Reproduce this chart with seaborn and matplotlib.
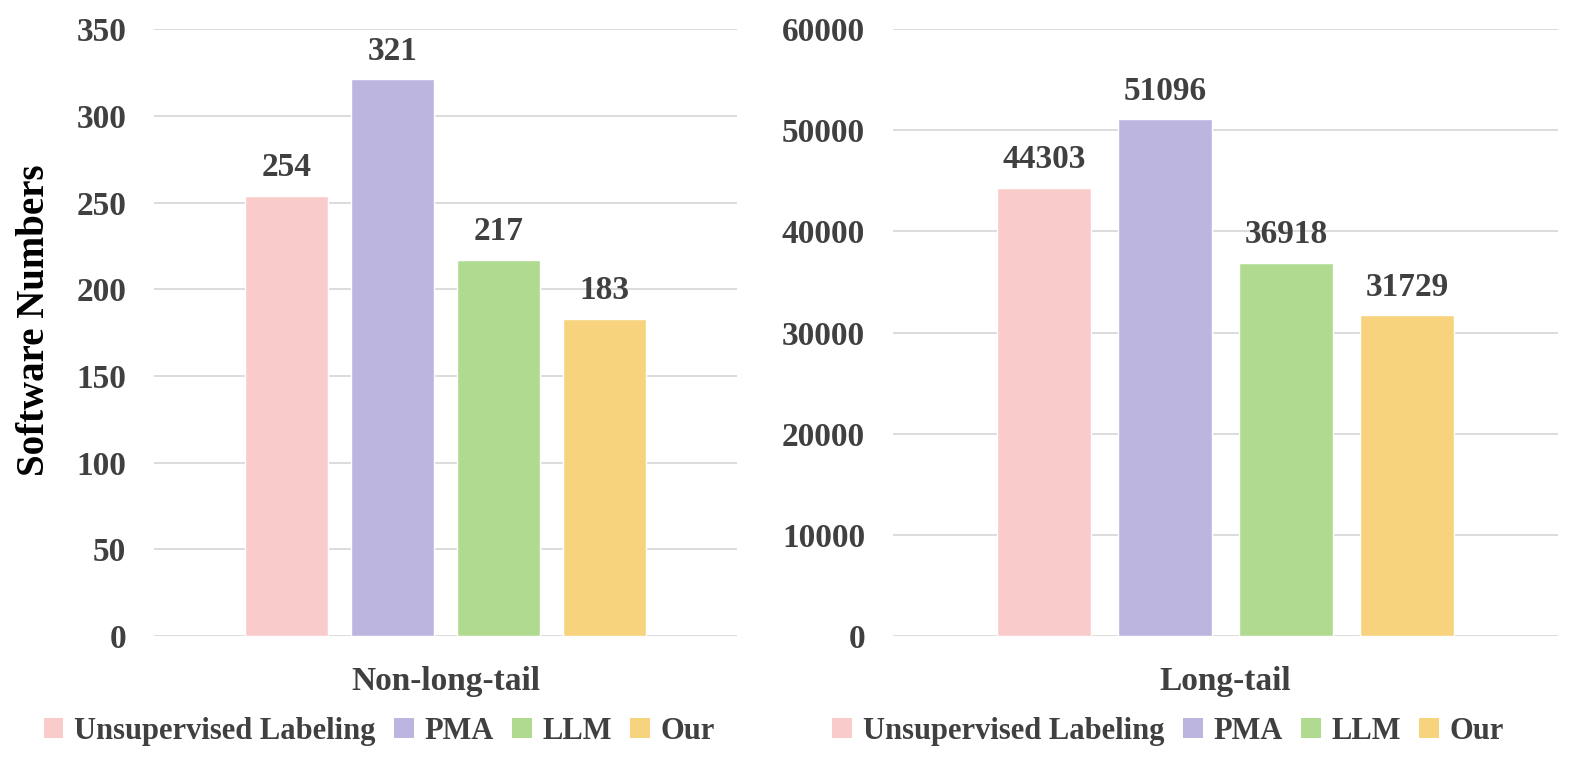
import matplotlib
matplotlib.use("Agg")
import matplotlib.pyplot as plt
import seaborn as sns
import pandas as pd
from matplotlib.patches import Patch

methods = ["Unsupervised Labeling", "PMA", "LLM", "Our"]
non_long_tail = [254, 321, 217, 183]
long_tail = [44303, 51096, 36918, 31729]
colors = ["#F9CBCA", "#BBB5E0", "#B1DA91", "#F7D37D"]
panels = [("Non-long-tail", non_long_tail, 350, 50), ("Long-tail", long_tail, 60000, 10000)]

sns.set_theme(style="white")
plt.rcParams["font.family"] = ["Liberation Serif", "DejaVu Serif"]
plt.rcParams["font.weight"] = "bold"
TXT = "#404040"
FS = 24

fig = plt.figure(figsize=(15.81, 7.68), dpi=100)
ax_rects = [[0.0974, 0.172, 0.3688, 0.790], [0.5648, 0.172, 0.4207, 0.790]]
legend_x = [0.240, 0.739]

for (name, vals, ymax, step), rect, lx in zip(panels, ax_rects, legend_x):
    ax = fig.add_axes(rect)
    df = pd.DataFrame({"group": [name] * len(methods), "method": methods, "value": vals})
    sns.barplot(data=df, x="group", y="value", hue="method", hue_order=methods,
                palette=colors, width=0.728, gap=0.22, ax=ax, legend=False,
                saturation=1, zorder=3)
    ax.set_ylim(0, ymax)
    ax.set_yticks(range(0, ymax + 1, step))
    ax.set_xlim(-0.5, 0.5)
    ax.grid(axis="y", color="#D9D9D9", linewidth=1.3, zorder=0)
    ax.set_axisbelow(True)
    for s in ax.spines.values():
        s.set_visible(False)
    ax.tick_params(axis="both", length=0, labelsize=FS, labelcolor=TXT)
    ax.tick_params(axis="y", pad=20)
    ax.tick_params(axis="x", pad=22)
    for lab in ax.get_xticklabels() + ax.get_yticklabels():
        lab.set_fontweight("bold")
    ax.set_xlabel("")
    ax.set_ylabel("")
    for c in ax.containers:
        ax.bar_label(c, fmt="%d", padding=9, fontsize=FS, fontweight="bold", color=TXT)
    handles = [Patch(facecolor=col, edgecolor="none", label=m) for m, col in zip(methods, colors)]
    fig.legend(handles=handles, loc="center", bbox_to_anchor=(lx, 0.048), ncol=4,
               frameon=False, handlelength=0.65, handleheight=0.65,
               handletextpad=0.35, columnspacing=0.6,
               prop={"size": 22, "weight": "bold"}, labelcolor=TXT)

fig.text(0.022, 0.583, "Software Numbers", rotation=90, ha="center", va="center",
         fontsize=28, fontweight="bold", color="black")

fig.savefig("out.png", dpi=100)
